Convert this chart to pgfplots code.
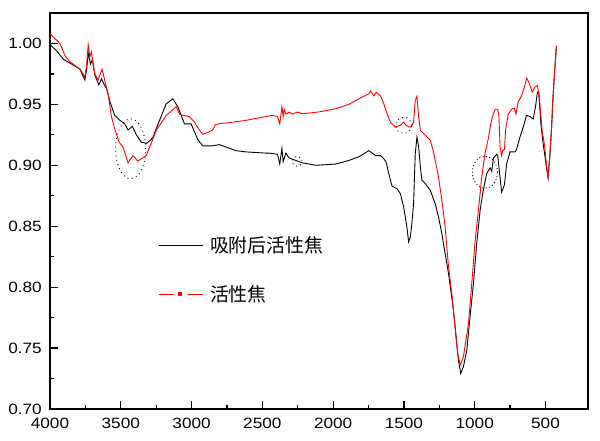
\documentclass[border=0pt]{standalone}
\usepackage{fontspec}
\setmainfont{Liberation Sans}[FakeStretch=1.15]
\newfontfamily\cjk{Noto Sans CJK SC}
\usepackage{pgfplots}
\pgfplotsset{compat=1.18}
\begin{document}
\begin{tikzpicture}
\begin{axis}[
  name=ax,
  scale only axis,
  width=538bp, height=396bp,
  x dir=reverse,
  xmin=200, xmax=4000,
  ymin=0.70, ymax=1.025,
  xtick={500,1000,1500,2000,2500,3000,3500,4000},
  ytick={0.70,0.75,0.80,0.85,0.90,0.95,1.00},
  minor x tick num=1, minor y tick num=1,
  tick align=inside,
  xtick pos=bottom, ytick pos=left,
  major tick length=8bp, minor tick length=4bp,
  axis line style={line width=1.5bp},
  every tick/.style={line width=1.3bp, black},
  tick label style={font=\fontsize{15}{17}\selectfont},
  /pgf/number format/assume math mode=true,
  xticklabel style={inner sep=0pt, yshift=-9bp, /pgf/number format/1000 sep={}},
  yticklabel style={inner sep=0pt, xshift=-8bp, /pgf/number format/.cd, fixed, fixed zerofill, precision=2},
  legend style={at={(rel axis cs:0.2007,0.3514)}, anchor=west, draw=none, fill=none,
    inner sep=0pt, row sep=31bp, column sep=7bp, nodes={inner sep=0pt},
    font=\cjk\fontsize{19}{21}\selectfont},
  legend cell align=left,
]
\addplot[black, line width=0.9bp,
  legend image code/.code={\draw[black, line width=0.9bp] (0bp,0bp) -- (44bp,0bp);}]
coordinates {
(4000,0.999) (3953,0.994) (3906,0.987) (3847,0.983) (3789,0.979) (3754,0.970) (3742,0.978) (3730,0.992) (3714,0.983) (3700,0.987) (3683,0.974) (3655,0.966) (3636,0.971) (3625,0.968) (3601,0.963) (3578,0.953) (3543,0.941) (3507,0.937) (3472,0.934) (3449,0.929) (3418,0.932) (3390,0.925) (3355,0.919) (3320,0.918) (3296,0.920) (3273,0.923) (3226,0.937) (3179,0.9505) (3132,0.9546) (3097,0.948) (3050,0.934) (3003,0.934) (2956,0.921) (2921,0.916) (2851,0.916) (2804,0.917) (2757,0.915) (2686,0.912) (2616,0.911) (2475,0.910) (2452,0.910) (2393,0.909) (2377,0.901) (2362,0.914) (2353,0.903) (2334,0.910) (2311,0.906) (2264,0.904) (2217,0.902) (2123,0.900) (1983,0.901) (1889,0.904) (1818,0.907) (1748,0.912) (1736,0.911) (1701,0.908) (1666,0.908) (1643,0.9055) (1626,0.9027) (1607,0.8931) (1584,0.8828) (1549,0.8808) (1525,0.8767) (1502,0.8658) (1479,0.8494) (1467,0.8371) (1455,0.8412) (1444,0.8521) (1432,0.8685) (1420,0.9096) (1408,0.9232) (1396,0.915) (1384,0.8986) (1373,0.8877) (1349,0.885) (1314,0.8795) (1279,0.8685) (1256,0.8576) (1232,0.844) (1221,0.8358) (1185,0.8112) (1150,0.781) (1127,0.7538) (1115,0.740) (1099,0.7292) (1080,0.7347) (1056,0.7484) (1033,0.7757) (1009,0.803) (986,0.8358) (962,0.8631) (939,0.880) (916,0.893) (892,0.898) (880,0.895) (868,0.906) (845,0.909) (838,0.908) (821,0.890) (810,0.878) (790,0.884) (775,0.901) (751,0.911) (716,0.911) (705,0.913) (681,0.923) (657,0.9315) (634,0.941) (610,0.940) (587,0.938) (571,0.948) (557,0.960) (547,0.960) (533,0.934) (517,0.918) (494,0.899) (482,0.890) (470,0.907) (458,0.929) (447,0.956) (435,0.978) (423,0.998)
};
\addlegendentry{吸附后活性焦}
\addplot[red, line width=0.9bp,
  legend image code/.code={\draw[red, line width=0.9bp] (0bp,0bp) -- (15bp,0bp); \fill[red] (19.5bp,-1.8bp) rectangle (23bp,1.8bp); \draw[red, line width=0.9bp] (29bp,0bp) -- (44bp,0bp);}]
coordinates {
(4000,1.008) (3965,1.004) (3930,1.000) (3894,0.990) (3859,0.985) (3812,0.981) (3789,0.979) (3766,0.975) (3754,0.972) (3742,0.982) (3730,0.999) (3719,0.989) (3707,0.993) (3695,0.982) (3683,0.975) (3660,0.970) (3648,0.974) (3632,0.979) (3620,0.973) (3606,0.966) (3590,0.959) (3566,0.940) (3543,0.930) (3512,0.919) (3484,0.915) (3449,0.902) (3414,0.908) (3379,0.9035) (3320,0.908) (3249,0.9287) (3179,0.941) (3108,0.948) (3085,0.942) (3062,0.941) (3015,0.940) (2980,0.9355) (2944,0.9287) (2921,0.9254) (2886,0.927) (2851,0.929) (2832,0.9333) (2792,0.9344) (2733,0.935) (2616,0.9369) (2522,0.939) (2429,0.941) (2393,0.940) (2377,0.934) (2362,0.948) (2353,0.940) (2346,0.946) (2334,0.942) (2311,0.9437) (2288,0.942) (2253,0.9437) (2217,0.9423) (2100,0.9438) (1983,0.9464) (1889,0.950) (1818,0.9546) (1748,0.9587) (1736,0.961) (1713,0.957) (1696,0.960) (1666,0.957) (1643,0.9508) (1619,0.9423) (1596,0.9355) (1561,0.9315) (1525,0.9328) (1502,0.9355) (1486,0.933) (1467,0.9315) (1448,0.9315) (1432,0.9355) (1420,0.9533) (1408,0.9566) (1396,0.9396) (1384,0.9287) (1349,0.9246) (1314,0.9205) (1291,0.911) (1256,0.8904) (1232,0.8713) (1209,0.8494) (1185,0.8166) (1162,0.7948) (1139,0.7675) (1120,0.7456) (1103,0.736) (1080,0.7429) (1044,0.7702) (1021,0.803) (997,0.8385) (974,0.863) (951,0.890) (927,0.910) (904,0.922) (880,0.938) (857,0.946) (838,0.946) (829,0.940) (821,0.915) (810,0.908) (803,0.912) (790,0.913) (782,0.929) (763,0.942) (739,0.946) (721,0.947) (709,0.942) (693,0.952) (669,0.957) (646,0.9656) (634,0.9716) (617,0.968) (594,0.960) (575,0.964) (557,0.9656) (540,0.9505) (524,0.9287) (505,0.915) (494,0.901) (482,0.890) (470,0.907) (458,0.929) (447,0.956) (435,0.978) (423,0.998)
};
\addlegendentry{活性焦}
\draw[black, line width=0.9bp, dash pattern=on 0.9bp off 3.5bp] (axis cs:3430,0.9135) ellipse [x radius=15bp, y radius=30bp];
\draw[black, line width=0.9bp, dash pattern=on 0.9bp off 3.5bp] (axis cs:1502,0.9328) ellipse [x radius=8bp, y radius=8bp];
\draw[black, line width=0.9bp, dash pattern=on 0.9bp off 2.5bp] (axis cs:928,0.8943) ellipse [x radius=12.5bp, y radius=16bp];
\draw[black, line width=0.9bp, dash pattern=on 0.9bp off 3.5bp] (axis cs:2255,0.9033) ellipse [x radius=5bp, y radius=5bp];
\end{axis}
\pgfresetboundingbox
\path ([shift={(-50bp,-32bp)}]ax.south west) rectangle ([shift={(12bp,13bp)}]ax.north east);
\end{tikzpicture}
\end{document}
